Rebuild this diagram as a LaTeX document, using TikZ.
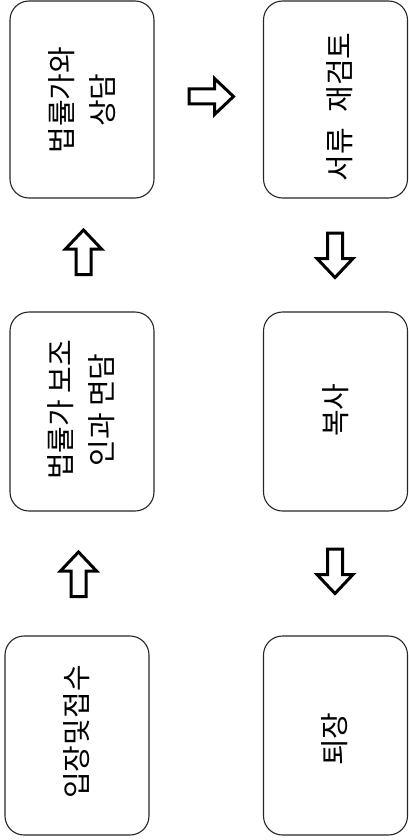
\documentclass[tikz,border=0pt]{standalone}
\usepackage{fontspec}
\newfontfamily\kr{Noto Sans CJK KR}
\tikzset{
  box/.style={draw=black!85, line width=1.1pt, rounded corners=19pt, minimum width=144pt, inner sep=0pt},
  lbl/.style={rotate=90, font=\kr\fontsize{29}{41}\selectfont, align=center, inner sep=0pt},
  fat/.style={draw=black, line width=3pt, fill=white, line join=miter},
  blockarrow/.pic={\draw[fat] (0,-22) -- (18,-3) -- (7.5,-3) -- (7.5,22.5) -- (-7.5,22.5) -- (-7.5,-3) -- (-18,-3) -- cycle;}
}
\begin{document}
\begin{tikzpicture}[x=1pt,y=-1pt]
\useasboundingbox (0,0) rectangle (409,840);
% boxes
\node[box, minimum height=197pt] (A) at (82,99.5) {};
\node[box, minimum height=197pt] (B) at (335.5,99.5) {};
\node[box, minimum height=199pt] (C) at (82,411.5) {};
\node[box, minimum height=199pt] (D) at (335.5,411.5) {};
\node[box, minimum height=199pt] (E) at (77,735.5) {};
\node[box, minimum height=199pt] (F) at (335.5,735.5) {};
% labels
\node[lbl] (tA) at (82,100) {법률가와\\상담};
\node[lbl] (tB) at (340,107) {서류\hspace{0.55em}재검토};
\node[lbl] (tC) at (81,410) {법률가 보조\\인과 면담};
\node[lbl] (tD) at (336,410) {복사};
\node[lbl] (tE) at (77,732) {입장및접수};
\node[lbl] (tF) at (335,739) {퇴장};
% arrows
\coordinate (a1) at (83.5,252);
\coordinate (a2) at (78.5,574);
\coordinate (a3) at (211.5,96.5);
\coordinate (a4) at (335,255.5);
\coordinate (a5) at (335,571.5);
\pic at (a1) {blockarrow};
\pic at (a2) {blockarrow};
\pic[rotate=-90] at (a3) {blockarrow};
\pic[rotate=180] at (a4) {blockarrow};
\pic[rotate=180] at (a5) {blockarrow};
\end{tikzpicture}
\end{document}
